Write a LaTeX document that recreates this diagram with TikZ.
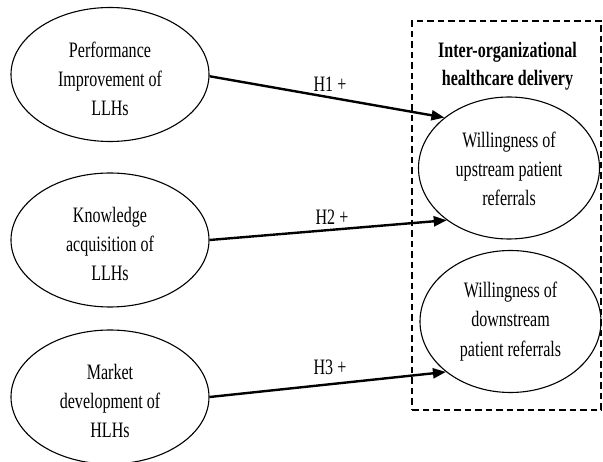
\documentclass[tikz,border=0pt]{standalone}
\usepackage{fontspec}
\setmainfont[FakeStretch=0.73]{Liberation Serif}
\usetikzlibrary{shapes.geometric,arrows.meta}
\begin{document}
\begin{tikzpicture}[x=1pt,y=-1pt,
  oval/.style={draw, ellipse, line width=1.1pt, inner sep=0pt, align=center,
    font=\fontsize{22}{29.3}\selectfont},
  leftoval/.style={oval, minimum width=198pt, minimum height=134pt},
  rightoval/.style={oval, minimum width=181pt, minimum height=142pt},
  hyp/.style={line width=2.4pt, -{Triangle[length=13pt,width=10pt]}},
  lab/.style={font=\fontsize{22}{26}\selectfont, inner sep=0pt},
  frame/.style={draw, line width=1.9pt, dash pattern=on 6.5pt off 4pt, inner sep=0pt},
]
\useasboundingbox (0,0) rectangle (603,462);

% dashed group frame
\node[frame, minimum width=189pt, minimum height=389pt] (grp) at (506.5,215.5) {};
\node[font=\bfseries\fontsize{22}{28.3}\selectfont, align=center, inner sep=0pt] (title) at (507.5,66.5) {Inter-organizational\\healthcare delivery};

% left constructs
\node[leftoval] (l1) at (110,74.5) {\rule{0pt}{24pt}Performance\\Improvement of\\LLHs};
\node[leftoval] (l2) at (110,240) {\rule{0pt}{23pt}Knowledge\\acquisition of\\LLHs};
\node[leftoval] (l3) at (110,397) {\rule{0pt}{23pt}Market\\development of\\HLHs};

% right constructs
\node[rightoval] (r1) at (509,168) {\rule{0pt}{17pt}Willingness of\\upstream patient\\referrals};
\node[rightoval] (r2) at (510.5,321.5) {Willingness of\\downstream\\patient referrals};

% hypotheses
\draw[hyp] (l1.-1.5) -- (r1.142);
\draw[hyp] (l2.east) -- (r1.220);
\draw[hyp] (l3.east) -- (r2.218);

\node[lab] (h1) at (330,84) {H1 +};
\node[lab] (h2) at (332,217) {H2 +};
\node[lab] (h3) at (330,367) {H3 +};
\end{tikzpicture}
\end{document}
